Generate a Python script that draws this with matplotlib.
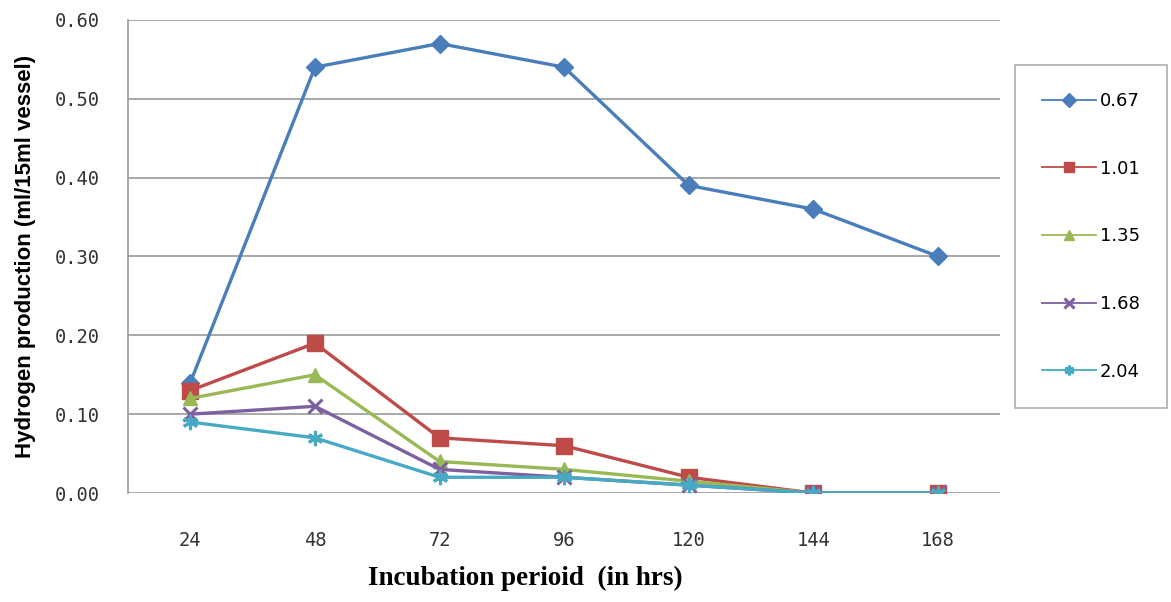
import matplotlib
matplotlib.use("Agg")
import matplotlib.pyplot as plt
import numpy as np

hours = ["24", "48", "72", "96", "120", "144", "168"]
series_names = ["0.67", "1.01", "1.35", "1.68", "2.04"]
s067 = [0.14, 0.54, 0.57, 0.54, 0.39, 0.36, 0.30]
s101 = [0.13, 0.19, 0.07, 0.06, 0.02, 0.00, 0.00]
s135 = [0.12, 0.15, 0.04, 0.03, 0.015, 0.00, 0.00]
s168 = [0.10, 0.11, 0.03, 0.02, 0.01, 0.00, 0.00]
s204 = [0.09, 0.07, 0.02, 0.02, 0.01, 0.00, 0.00]

colors = ["#4A7EBB", "#BE4B48", "#98B954", "#7D60A0", "#46AAC5"]
markers = ["D", "s", "^", "x", (6, 2, 0)]
msizes = [9, 11, 10, 10, 11]

fig = plt.figure(figsize=(11.71, 6.02), dpi=100)
ax = fig.add_axes([0.1093, 0.181, 0.745, 0.786])

x = np.arange(1, len(hours) + 1)
for name, vals, c, m, ms in zip(series_names, [s067, s101, s135, s168, s204], colors, markers, msizes):
    ax.plot(x, vals, color=c, marker=m, markersize=ms, linewidth=2.4, label=name,
            markeredgewidth=2.2 if m in ("x", (6, 2, 0)) else 1, markeredgecolor=c)

ax.set_xlim(0.5, len(hours) + 0.5)
ax.set_ylim(0, 0.6)
yt = np.arange(0, 0.61, 0.1)
ax.set_yticks(yt)
ax.set_yticklabels([f"{v:.2f}" for v in yt], fontsize=13.5, color="#333333", family="DejaVu Sans Mono")
ax.set_xticks(x)
ax.set_xticklabels(hours, fontsize=13.5, color="#333333", family="DejaVu Sans Mono")
ax.tick_params(axis="y", length=0, pad=20)
ax.tick_params(axis="x", length=0, pad=27)

ax.grid(axis="y", color="#9a9a9a", linewidth=1.2)
ax.set_axisbelow(True)
for side in ["top", "right", "bottom"]:
    ax.spines[side].set_visible(False)
ax.spines["left"].set_color("#9a9a9a")
ax.spines["left"].set_linewidth(1.2)

ax.set_ylabel("Hydrogen production (ml/15ml vessel)", fontsize=16, fontweight="bold",
              family="Liberation Sans")
ax.yaxis.set_label_coords(-0.105, 0.50)
ax.set_xlabel("Incubation perioid  (in hrs)", fontsize=19.5, fontweight="bold",
              family="Liberation Serif", labelpad=12)
ax.xaxis.label.set_x(0.456)

leg = fig.legend(loc="upper left", bbox_to_anchor=(1015 / 1171, 1 - 65 / 602), fontsize=13,
                 frameon=True, fancybox=False, edgecolor="#9a9a9a", handlelength=3.0,
                 labelspacing=2.75, borderpad=1.5, handletextpad=0.2, borderaxespad=0)
leg.get_frame().set_linewidth(1.2)
for h in leg.legend_handles:
    h.set_linewidth(1.3)
    h.set_markersize(7)

fig.savefig("out.png", dpi=100)
